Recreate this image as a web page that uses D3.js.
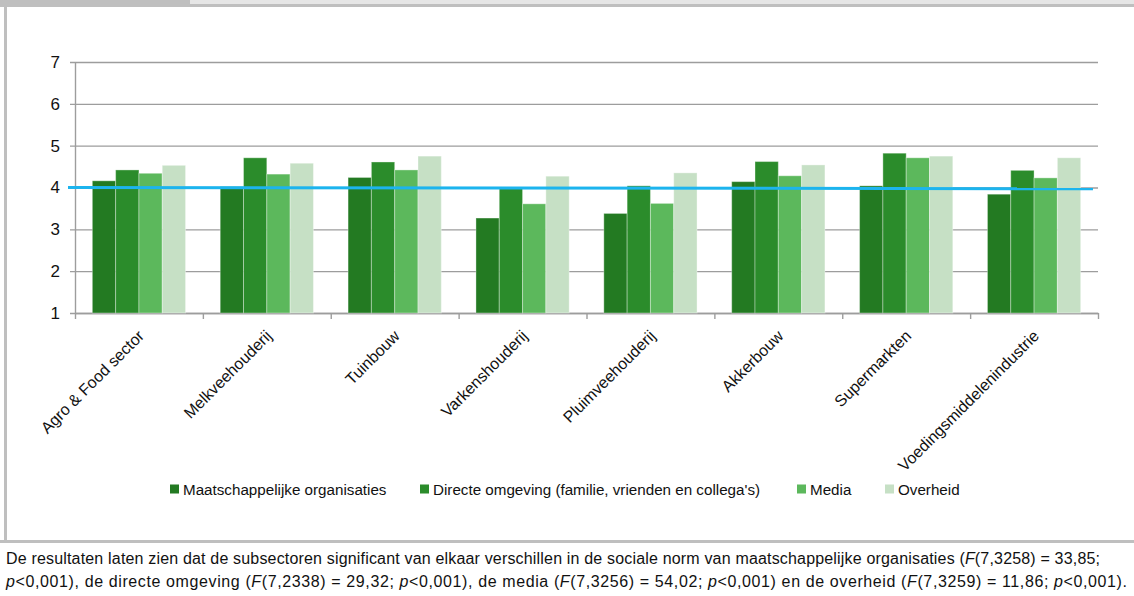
<!DOCTYPE html>
<html>
<head>
<meta charset="utf-8">
<script src="https://cdn.jsdelivr.net/npm/d3@7"></script>
<style>
  body { margin: 0; background: #fff; }
  text { font-family: "Liberation Sans", Arial, sans-serif; fill: #111; }
</style>
</head>
<body>
<svg id="chart" width="1134" height="596"></svg>
<script>
// data
const categories = ["Agro & Food sector", "Melkveehouderij", "Tuinbouw", "Varkenshouderij",
  "Pluimveehouderij", "Akkerbouw", "Supermarkten", "Voedingsmiddelenindustrie"];
const seriesNames = ["Maatschappelijke organisaties",
  "Directe omgeving (familie, vrienden en collega's)", "Media", "Overheid"];
const maatschappelijk = [4.16, 4.02, 4.24, 3.27, 3.38, 4.14, 4.04, 3.84];
const directeOmgeving = [4.42, 4.71, 4.61, 3.98, 4.04, 4.62, 4.82, 4.41];
const media = [4.34, 4.32, 4.42, 3.61, 3.62, 4.28, 4.71, 4.23];
const overheid = [4.53, 4.58, 4.75, 4.27, 4.35, 4.54, 4.75, 4.71];
const yTicks = [1, 2, 3, 4, 5, 6, 7];
const referenceLine = [4.0, 3.97]; // blue line, value at left and right end
const colors = ["#237a22", "#2b8c2b", "#5cb85c", "#c6e0c5"];

const svg = d3.select("#chart");

// frame around the figure
svg.append("rect").attr("x", 0).attr("y", 0).attr("width", 1134).attr("height", 7).attr("fill", "#bfbfbf");
svg.append("rect").attr("x", 190).attr("y", 0).attr("width", 944).attr("height", 4).attr("fill", "#e6e6e6");
svg.append("rect").attr("x", 4).attr("y", 7).attr("width", 3).attr("height", 536).attr("fill", "#bfbfbf");
svg.append("rect").attr("x", 0).attr("y", 540).attr("width", 1134).attr("height", 3).attr("fill", "#bfbfbf");

// scales
var x = d3.scaleBand()
  .domain(categories)
  .range([75, 1098])
  .paddingInner(0.271)
  .paddingOuter(0.1355);
var xSub = d3.scaleBand()
  .domain(seriesNames)
  .range([0, x.bandwidth()]);
var y = d3.scaleLinear()
  .domain([1, 7])
  .range([313, 62]);
var color = d3.scaleOrdinal()
  .domain(seriesNames)
  .range(colors);

// gridlines + y labels (axis placed on the right so ticks run across the plot)
var gy = svg.append("g")
  .attr("transform", "translate(1098,0)")
  .call(d3.axisLeft(y).tickValues(yTicks).tickFormat(d3.format("d")).tickSize(1028).tickPadding(10));
gy.select(".domain").remove();
gy.selectAll("line").attr("stroke", "#9d9d9d").attr("stroke-width", 1.4);
gy.selectAll("text").attr("font-size", 17).style("font-family", "Liberation Sans, Arial, sans-serif").attr("fill", "#111");

// y axis line
svg.append("g")
  .attr("transform", "translate(75,0)")
  .call(d3.axisLeft(y).tickValues([]).tickSizeOuter(0))
  .select(".domain").attr("stroke", "#9d9d9d").attr("stroke-width", 1.4);

// x axis with category boundary ticks
var xb = d3.scaleLinear().domain([0, categories.length]).range(x.range());
var gx = svg.append("g")
  .attr("transform", "translate(0,313)")
  .call(d3.axisBottom(xb).tickValues(d3.range(categories.length + 1)).tickSize(6).tickSizeOuter(0).tickFormat(""));
gx.select(".domain").attr("stroke", "#9d9d9d").attr("stroke-width", 1.4);
gx.selectAll("line").attr("stroke", "#9d9d9d").attr("stroke-width", 1.4);

// bars
var table = categories.map(function (c, i) {
  return { cat: c, values: [maatschappelijk[i], directeOmgeving[i], media[i], overheid[i]] };
});
svg.append("g")
  .selectAll("g")
  .data(table)
  .enter()
  .append("g")
  .attr("transform", function (d) { return "translate(" + x(d.cat) + ",0)"; })
  .selectAll("rect")
  .data(function (d) { return d.values.map(function (v, j) { return { s: seriesNames[j], v: v }; }); })
  .enter()
  .append("rect")
  .attr("x", function (d) { return xSub(d.s); })
  .attr("width", xSub.bandwidth())
  .attr("y", function (d) { return y(d.v); })
  .attr("height", function (d) { return y(1) - y(d.v); })
  .attr("fill", function (d) { return color(d.s); })
  .attr("stroke", "rgba(255,255,255,0.35)")
  .attr("stroke-width", 1);

// blue reference line
svg.append("line")
  .attr("x1", 68).attr("x2", 1093)
  .attr("y1", y(referenceLine[0])).attr("y2", y(referenceLine[1]))
  .attr("stroke", "#1cb4ee").attr("stroke-width", 3);

// rotated category labels
svg.append("g")
  .selectAll("text")
  .data(categories)
  .enter()
  .append("text")
  .attr("transform", function (d) { return "translate(" + (x(d) + x.bandwidth() / 2 + 6) + ",337) rotate(-45)"; })
  .attr("text-anchor", "end")
  .attr("font-size", 16)
  .text(function (d) { return d; });

// legend
var legendX = [170, 420, 797, 885];
var lg = svg.append("g")
  .selectAll("g")
  .data(seriesNames)
  .enter()
  .append("g")
  .attr("transform", function (d, i) { return "translate(" + legendX[i] + ",489)"; });
lg.append("rect").attr("x", 0).attr("y", -4.5).attr("width", 9).attr("height", 9)
  .attr("fill", function (d) { return color(d); });
lg.append("text").attr("x", 13).attr("y", 5.5).attr("font-size", 15.2).text(function (d) { return d; });

// note below the figure
var note = svg.append("g").attr("font-size", 16);
var line1 = note.append("text").attr("x", 6).attr("y", 564)
  .attr("textLength", 1094).attr("lengthAdjust", "spacing");
line1.append("tspan").text("De resultaten laten zien dat de subsectoren significant van elkaar verschillen in de sociale norm van maatschappelijke organisaties (");
line1.append("tspan").attr("font-style", "italic").text("F");
line1.append("tspan").text("(7,3258) = 33,85;");
var line2 = note.append("text").attr("x", 6).attr("y", 587)
  .attr("textLength", 1121).attr("lengthAdjust", "spacing");
[["p", 1], ["<0,001), de directe omgeving (", 0], ["F", 1], ["(7,2338) = 29,32; ", 0], ["p", 1],
 ["<0,001), de media (", 0], ["F", 1], ["(7,3256) = 54,02; ", 0], ["p", 1],
 ["<0,001) en de overheid (", 0], ["F", 1], ["(7,3259) = 11,86; ", 0], ["p", 1], ["<0,001).", 0]]
  .forEach(function (p) {
    line2.append("tspan").attr("font-style", p[1] ? "italic" : null).text(p[0]);
  });
</script>
</body>
</html>
